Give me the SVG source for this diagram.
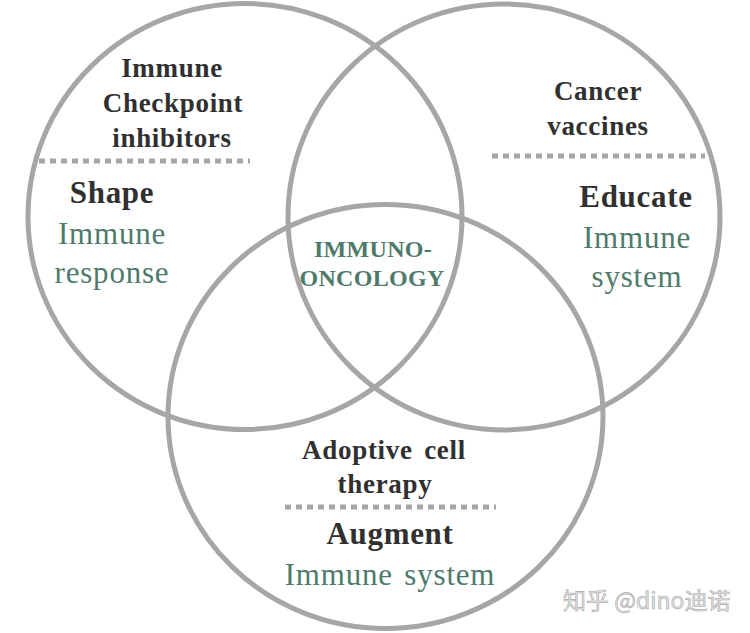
<svg xmlns="http://www.w3.org/2000/svg" width="750" height="633" viewBox="0 0 750 633">
<style>
.ring{fill:none;stroke:#a6a6a6;stroke-width:5}
.dots{stroke:#a6a6a6;stroke-width:5;stroke-dasharray:6 5}
.t{font-family:"Liberation Serif","Times New Roman",serif;text-anchor:middle}
.h{font-weight:bold;fill:#303030;font-size:27px;letter-spacing:0.7px}
.k{font-weight:bold;fill:#303030;font-size:31px;letter-spacing:0.7px}
.g{fill:#4e7a6b;font-size:31px;letter-spacing:0.8px}
.c{font-weight:bold;fill:#4e7a6b;font-size:24px;letter-spacing:0.3px}
.wm{font-family:"Noto Sans CJK SC","Noto Sans",sans-serif;font-size:23px;fill:#e4e4e4;stroke:#a8a8a8;stroke-width:0.6}
</style>
<rect width="750" height="633" fill="#ffffff"/>
<g id="circles">
<ellipse id="ring-left" class="ring" cx="245" cy="216.5" rx="217" ry="213"/>
<ellipse id="ring-right" class="ring" cx="504" cy="217" rx="216" ry="213"/>
<ellipse id="ring-bottom" class="ring" cx="385.5" cy="416.5" rx="217.5" ry="212"/>
</g>
<g id="node-checkpoint">
<text class="t h" x="172" y="77">Immune</text>
<text class="t h" x="173" y="112">Checkpoint</text>
<text class="t h" x="172" y="147">inhibitors</text>
<line class="dots" x1="39" y1="161" x2="250" y2="161"/>
<text class="t k" x="112" y="203">Shape</text>
<text class="t g" x="112" y="244">Immune</text>
<text class="t g" x="112" y="283">response</text>
</g>
<g id="node-vaccines">
<text class="t h" x="598" y="100">Cancer</text>
<text class="t h" x="598" y="135">vaccines</text>
<line class="dots" x1="492" y1="156" x2="705" y2="156"/>
<text class="t k" x="636" y="207">Educate</text>
<text class="t g" x="637" y="248">Immune</text>
<text class="t g" x="637" y="287">system</text>
</g>
<g id="node-adoptive">
<text class="t h" x="384" y="459" word-spacing="4">Adoptive cell</text>
<text class="t h" x="385" y="493">therapy</text>
<line class="dots" x1="285" y1="507" x2="496" y2="507"/>
<text class="t k" x="390" y="544">Augment</text>
<text class="t g" x="390" y="585" word-spacing="3">Immune system</text>
</g>
<g id="node-center">
<text class="t c" x="373" y="257">IMMUNO-</text>
<text class="t c" x="372" y="286">ONCOLOGY</text>
</g>
<text class="wm" x="563" y="609">知乎 @dino迪诺</text>
</svg>
